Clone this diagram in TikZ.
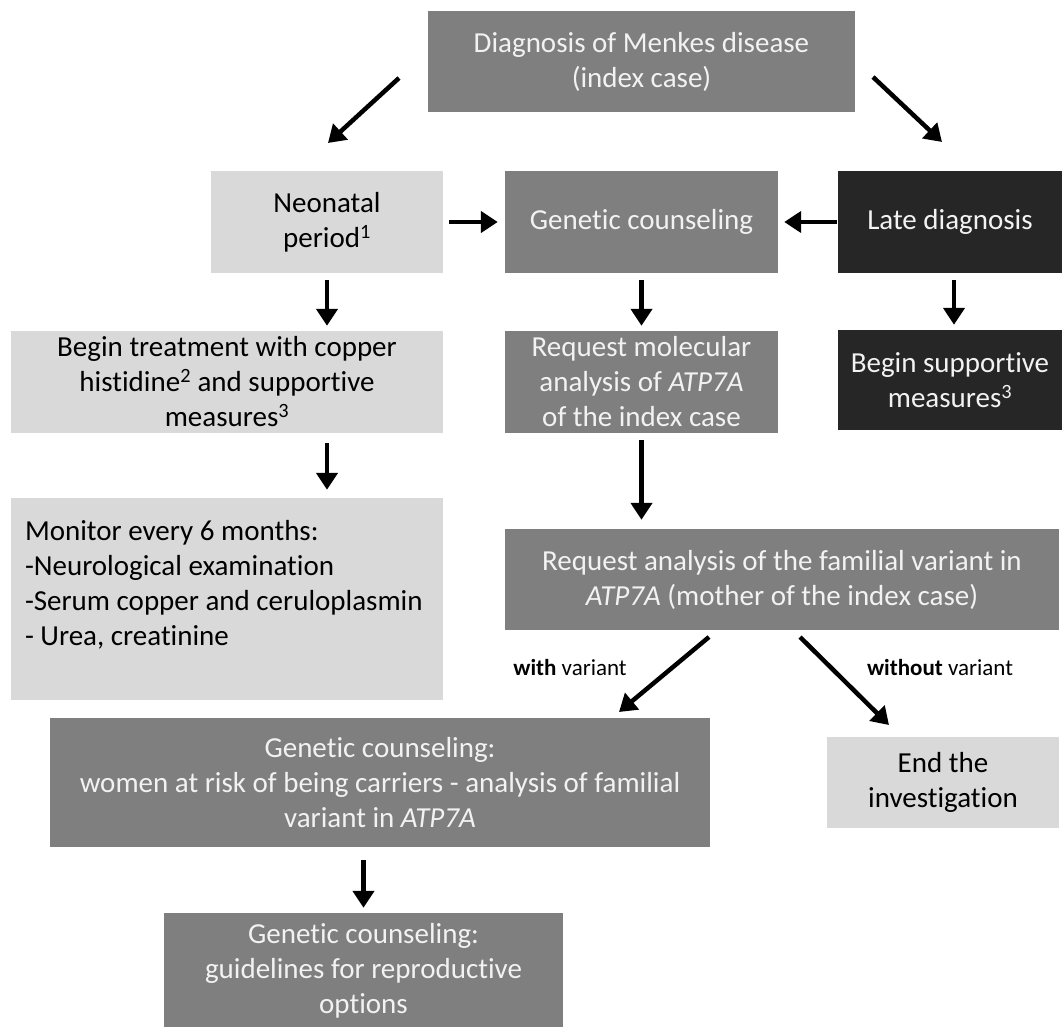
\documentclass[tikz,border=0pt]{standalone}
\usepackage{fontspec}
\setmainfont{Carlito}[Ligatures=NoCommon]
\usetikzlibrary{arrows.meta}
\definecolor{boxdark}{HTML}{7F7F7F}
\definecolor{boxlight}{HTML}{D9D9D9}
\definecolor{boxblack}{HTML}{262626}
\definecolor{txtlight}{HTML}{F2F2F2}

\begin{document}
\begin{tikzpicture}[x=1pt,y=-1pt]
\useasboundingbox (0,0) rectangle (1062,1027);
\tikzstyle{box}=[rectangle,inner sep=2pt,align=center,font=\fontsize{29}{35}\selectfont]
\tikzstyle{dbox}=[box,fill=boxdark,text=txtlight]
\tikzstyle{lbox}=[box,fill=boxlight,text=black]
\tikzstyle{bbox}=[box,fill=boxblack,text=txtlight]
\tikzstyle{flow}=[-{Triangle[length=17pt,width=21pt]},line width=4.5pt,color=black]
\tikzstyle{tag}=[font=\fontsize{23}{26}\selectfont]

\node[dbox,minimum width=427pt,minimum height=101pt] (dx) at (641.5,61.5) {Diagnosis of Menkes disease\\(index case)};

\node[lbox,minimum width=232pt,minimum height=102pt] (neo) at (327,222) {Neonatal\\period\textsuperscript{1}};
\node[dbox,minimum width=273pt,minimum height=102pt] (gc) at (641.5,222) {Genetic counseling};
\node[bbox,minimum width=224pt,minimum height=102pt] (late) at (950,222) {Late diagnosis};

\node[lbox,minimum width=432pt,minimum height=102pt] (trt) at (227,382) {Begin treatment with copper\\histidine\textsuperscript{2} and supportive\\measures\textsuperscript{3}};
\node[dbox,minimum width=273pt,minimum height=102pt] (mol) at (641.5,382) {Request molecular\\analysis of \textit{ATP7A}\\of the index case};
\node[bbox,minimum width=224pt,minimum height=100pt] (sup) at (950,380) {Begin supportive\\measures\textsuperscript{3}};

\node[lbox,minimum width=432pt,minimum height=202pt] (mon) at (227,599) {};
\node[box,anchor=north west,align=left] (montxt) at ([xshift=12pt,yshift=-20pt]mon.north west) {Monitor every 6 months:\\-Neurological examination\\-Serum copper and ceruloplasmin\\- Urea, creatinine};

\node[dbox,minimum width=554pt,minimum height=101pt] (fam) at (782,579.5) {Request analysis of the familial variant in\\\textit{ATP7A} (mother of the index case)};

\node[tag] (wv) at (570,668) {\textbf{with} variant};
\node[tag] (wov) at (940,668) {\textbf{without} variant};

\node[dbox,minimum width=660pt,minimum height=129pt] (wom) at (380,782.5) {Genetic counseling:\\women at risk of being carriers - analysis of familial\\variant in \textit{ATP7A}};
\node[lbox,minimum width=232pt,minimum height=91pt] (endi) at (943,782.5) {End the\\investigation};

\node[dbox,minimum width=399pt,minimum height=116pt] (rep) at (363.5,971) {Genetic counseling:\\guidelines for reproductive\\options};

\coordinate (d1) at (399,78);
\coordinate (d2) at (328,143);
\coordinate (d3) at (873,77);
\coordinate (d4) at (942,142);
\coordinate (f1) at (709,637);
\coordinate (f2) at (619,712);
\coordinate (f3) at (800,637);
\coordinate (f4) at (889,725);

\draw[flow] (d1) to (d2);
\draw[flow] (d3) to (d4);
\draw[flow,shorten <=6pt,shorten >=7pt] (neo.east) to (gc.west);
\draw[flow,shorten <=1pt,shorten >=6pt] (late.west) to (gc.east);
\draw[flow,shorten <=7pt,shorten >=5pt] (neo.south) to (neo.south |- trt.north);
\draw[flow,shorten <=10pt,shorten >=8pt] (neo.south |- trt.south) to (neo.south |- mon.north);
\draw[flow,shorten <=7pt,shorten >=5pt] (gc.south) to (mol.north);
\draw[flow,shorten <=7pt,shorten >=9pt] (mol.south) to (mol.south |- fam.north);
\draw[flow,shorten <=7pt,shorten >=5pt] ([xshift=4pt]late.south) to ([xshift=4pt]sup.north);
\draw[flow] (f1) to (f2);
\draw[flow] (f3) to (f4);
\draw[flow,shorten <=13pt,shorten >=5pt] (rep.north |- wom.south) to (rep.north);
\end{tikzpicture}
\end{document}
